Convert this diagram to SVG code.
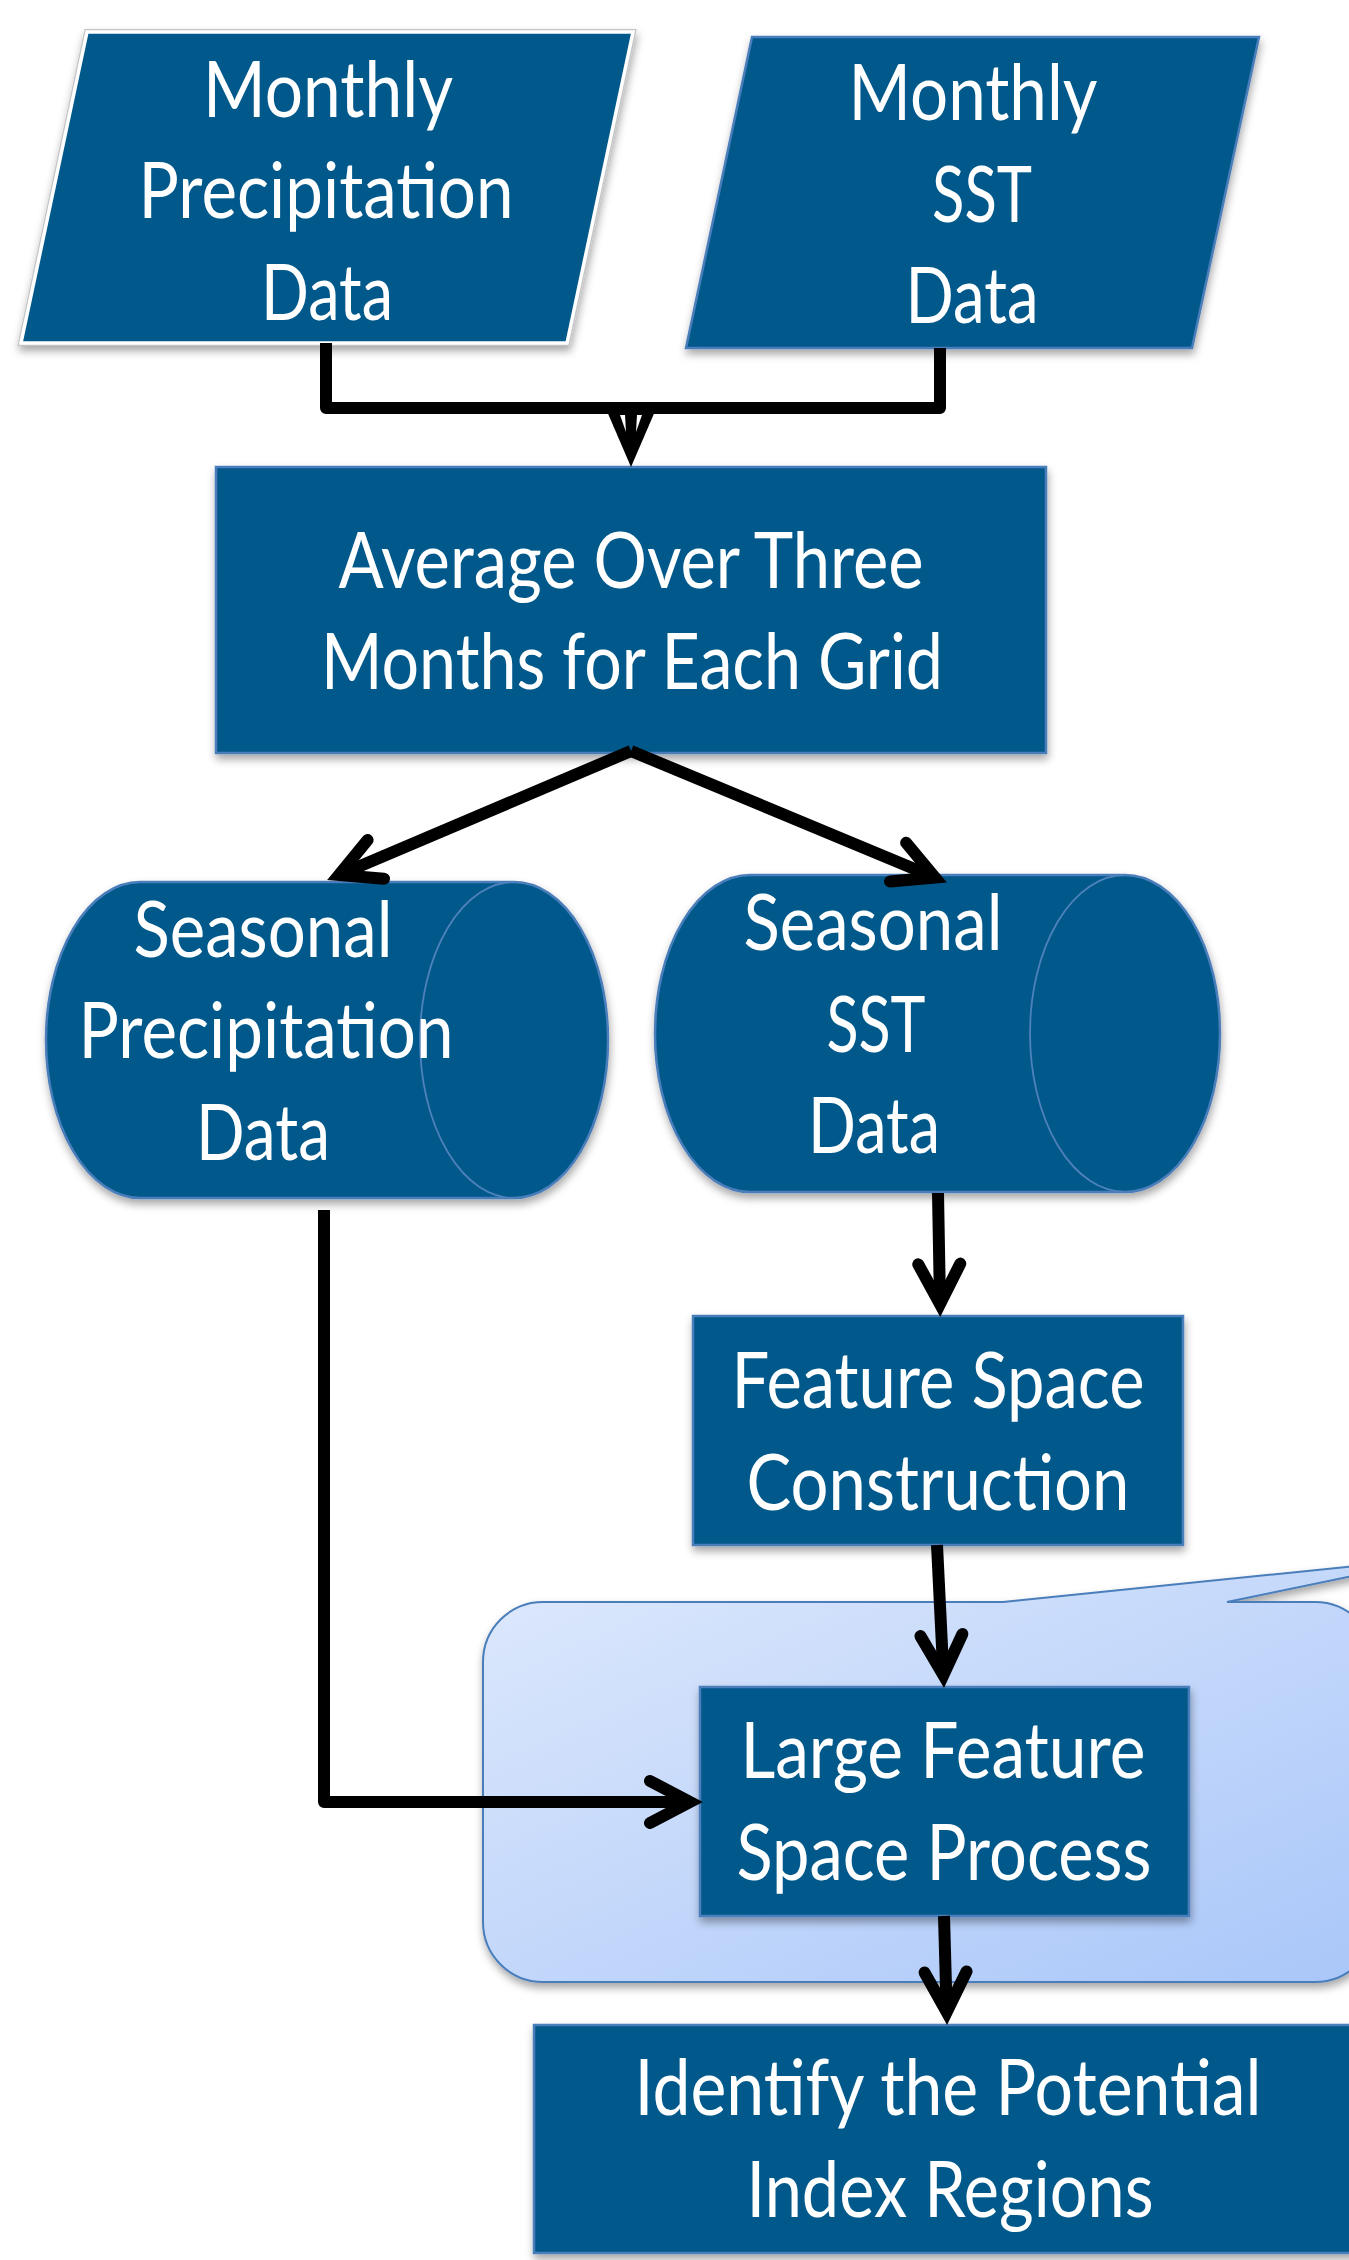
<svg xmlns="http://www.w3.org/2000/svg" width="1349" height="2260" viewBox="0 0 1349 2260">
  <defs>
    <style>
      .node { fill: #02598B; stroke: #4A7EBB; stroke-width: 2.5; }
      .lbl { font-family: Lato, "Open Sans", "Liberation Sans", sans-serif; font-size: 77px; fill: #ffffff; text-anchor: middle; }
      .wire { fill: none; stroke: #000000; stroke-width: 12; stroke-linejoin: round; }
      .rim { fill: none; stroke: #4F81BD; stroke-width: 1.8; }
    </style>
    <filter id="shadow" x="-10%" y="-10%" width="120%" height="130%">
      <feDropShadow dx="1" dy="5" stdDeviation="4" flood-color="#000000" flood-opacity="0.35"/>
    </filter>
    <linearGradient id="calloutFill" x1="0" y1="0" x2="1" y2="1">
      <stop offset="0" stop-color="#DEE9FC"/>
      <stop offset="1" stop-color="#A7C5F9"/>
    </linearGradient>
    <marker id="arrow" markerUnits="userSpaceOnUse" viewBox="-60 -40 90 80" markerWidth="90" markerHeight="80" refX="0" refY="0" orient="auto" overflow="visible">
      <path d="M-40,-21 L0,0 L-40,21" fill="none" stroke="#000000" stroke-width="12" stroke-linecap="round" stroke-linejoin="miter"/>
    </marker>
  </defs>

  <rect width="1349" height="2260" fill="#ffffff"/>

  <!-- grouping callout behind the large feature step -->
  <g id="callout" filter="url(#shadow)">
    <path d="M543,1602 L1003,1602 L1444,1557 L1227,1602 L1315,1602 A60,60 0 0 1 1375,1662 L1375,1922 A60,60 0 0 1 1315,1982 L543,1982 A60,60 0 0 1 483,1922 L483,1662 A60,60 0 0 1 543,1602 Z" fill="url(#calloutFill)" stroke="#4A7EBB" stroke-width="2"/>
  </g>

  <!-- input data: monthly precipitation -->
  <g id="monthly-precip" filter="url(#shadow)">
    <polygon points="87,32 633,32 567,343 21,343" fill="#02598B" stroke="#C4C4C4" stroke-width="6"/>
    <polygon points="87,32 633,32 567,343 21,343" fill="#02598B" stroke="#ffffff" stroke-width="3.5"/>
    <text class="lbl" x="328" y="117" textLength="250" lengthAdjust="spacingAndGlyphs">Monthly</text>
    <text class="lbl" x="326" y="218" textLength="375" lengthAdjust="spacingAndGlyphs">Precipitation</text>
    <text class="lbl" x="327" y="320" textLength="132" lengthAdjust="spacingAndGlyphs">Data</text>
  </g>

  <!-- input data: monthly SST -->
  <g id="monthly-sst" filter="url(#shadow)">
    <polygon class="node" points="752,37 1259,37 1192,348 686,348"/>
    <text class="lbl" x="973" y="120" textLength="249" lengthAdjust="spacingAndGlyphs">Monthly</text>
    <text class="lbl" x="982" y="222" textLength="100" lengthAdjust="spacingAndGlyphs">SST</text>
    <text class="lbl" x="972" y="323" textLength="133" lengthAdjust="spacingAndGlyphs">Data</text>
  </g>

  <!-- three-month averaging step -->
  <g id="average" filter="url(#shadow)">
    <rect class="node" x="216" y="467" width="830" height="286"/>
    <text class="lbl" x="631" y="588" textLength="585" lengthAdjust="spacingAndGlyphs">Average Over Three</text>
    <text class="lbl" x="632" y="689" textLength="622" lengthAdjust="spacingAndGlyphs">Months for Each Grid</text>
  </g>

  <!-- seasonal precipitation store -->
  <g id="seasonal-precip" filter="url(#shadow)">
    <path class="node" d="M140,882 L514,882 A94,158 0 0 1 514,1198 L140,1198 A94,158 0 0 1 140,882 Z"/>
    <path class="rim" d="M514,882 A94,158 0 0 0 514,1198"/>
    <text class="lbl" x="263" y="957" textLength="259" lengthAdjust="spacingAndGlyphs">Seasonal</text>
    <text class="lbl" x="266" y="1058" textLength="375" lengthAdjust="spacingAndGlyphs">Precipitation</text>
    <text class="lbl" x="263" y="1160" textLength="134" lengthAdjust="spacingAndGlyphs">Data</text>
  </g>

  <!-- seasonal SST store -->
  <g id="seasonal-sst" filter="url(#shadow)">
    <path class="node" d="M750,875 L1125,875 A95,158.5 0 0 1 1125,1192 L750,1192 A95,158.5 0 0 1 750,875 Z"/>
    <path class="rim" d="M1125,875 A95,158.5 0 0 0 1125,1192"/>
    <text class="lbl" x="873" y="950" textLength="259" lengthAdjust="spacingAndGlyphs">Seasonal</text>
    <text class="lbl" x="876" y="1052" textLength="99" lengthAdjust="spacingAndGlyphs">SST</text>
    <text class="lbl" x="874" y="1153" textLength="132" lengthAdjust="spacingAndGlyphs">Data</text>
  </g>

  <!-- feature space construction -->
  <g id="feature-space" filter="url(#shadow)">
    <rect class="node" x="693" y="1316" width="490" height="229"/>
    <text class="lbl" x="938" y="1408" textLength="413" lengthAdjust="spacingAndGlyphs">Feature Space</text>
    <text class="lbl" x="938" y="1510" textLength="383" lengthAdjust="spacingAndGlyphs">Construction</text>
  </g>

  <!-- large feature space process -->
  <g id="large-feature" filter="url(#shadow)">
    <rect class="node" x="700" y="1687" width="489" height="229"/>
    <text class="lbl" x="943" y="1778" textLength="405" lengthAdjust="spacingAndGlyphs">Large Feature</text>
    <text class="lbl" x="944" y="1880" textLength="415" lengthAdjust="spacingAndGlyphs">Space Process</text>
  </g>

  <!-- final output step -->
  <g id="identify" filter="url(#shadow)">
    <rect class="node" x="534" y="2025" width="828" height="228"/>
    <text class="lbl" x="948" y="2115" textLength="627" lengthAdjust="spacingAndGlyphs">Identify the Potential</text>
    <text class="lbl" x="950" y="2217" textLength="407" lengthAdjust="spacingAndGlyphs">Index Regions</text>
  </g>

  <!-- connectors -->
  <g id="connectors">
    <!-- both monthly inputs merge into the averaging step -->
    <path class="wire" d="M326,343 L326,408 L940,408 L940,348"/>
    <polygon points="603,402 659,402 631,467" fill="#000000"/>
    <polygon points="620,415 625,415 626,432" fill="#ffffff"/>
    <polygon points="637,415 642,415 636,432" fill="#ffffff"/>

    <path class="wire" d="M631,751 L339,875" marker-end="url(#arrow)"/>
    <path class="wire" d="M631,751 L935,877.5" marker-end="url(#arrow)"/>
    <path class="wire" d="M938,1193 L940,1304" marker-end="url(#arrow)"/>
    <path class="wire" d="M937,1545 L943.4,1675" marker-end="url(#arrow)"/>
    <path class="wire" d="M944,1916 L946.7,2012" marker-end="url(#arrow)"/>
    <path class="wire" d="M324,1210 L324,1802 L690,1802" marker-end="url(#arrow)"/>
  </g>
</svg>
